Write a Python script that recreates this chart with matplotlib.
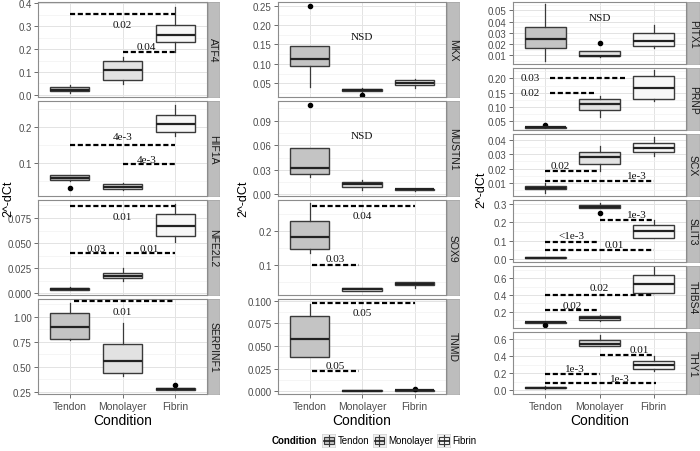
import matplotlib
matplotlib.use("Agg")
import matplotlib.pyplot as plt
from matplotlib.ticker import FixedLocator, MultipleLocator
from matplotlib.patches import Rectangle

plt.rcParams["font.family"] = ["Liberation Sans", "DejaVu Sans"]

conditions = ["Tendon", "Monolayer", "Fibrin"]
fills = ["#c4c4c4", "#e2e2e2", "#f7f7f7"]

columns = [
    ["ATF4", "HIF1A", "NFE2L2", "SERPINF1"],
    ["MKX", "MUSTN1", "SOX9", "TNMD"],
    ["PITX1", "PRNP", "SCX", "SLIT3", "THBS4", "THY1"],
]

# box statistics per gene: [Tendon, Monolayer, Fibrin]
whislo = {
    "ATF4": [0.008, 0.047, 0.187], "HIF1A": [0.052, 0.025, 0.175],
    "NFE2L2": [0.003, 0.012, 0.051], "SERPINF1": [0.764, 0.41, 0.268],
    "MKX": [0.040, 0.029, 0.038], "MUSTN1": [0.0216, 0.0056, 0.0045],
    "SOX9": [0.136, 0.022, 0.030], "TNMD": [0.0377, 0.0003, 0.0006],
    "PITX1": [0.0046, 0.008, 0.0161], "PRNP": [0.026, 0.067, 0.123],
    "SCX": [0.0036, 0.0183, 0.0289], "SLIT3": [0.002, 0.277, 0.115],
    "THBS4": [0.062, 0.088, 0.428], "THY1": [0.018, 0.514, 0.223],
}
q1 = {
    "ATF4": [0.015, 0.066, 0.229], "HIF1A": [0.054, 0.029, 0.186],
    "NFE2L2": [0.0035, 0.0149, 0.0568], "SERPINF1": [0.781, 0.436, 0.270],
    "MKX": [0.094, 0.031, 0.046], "MUSTN1": [0.0248, 0.0096, 0.005],
    "SOX9": [0.148, 0.023, 0.039], "TNMD": [0.0377, 0.0004, 0.0008],
    "PITX1": [0.0161, 0.0091, 0.0185], "PRNP": [0.027, 0.0905, 0.129],
    "SCX": [0.0059, 0.0235, 0.0316], "SLIT3": [0.003, 0.277, 0.115],
    "THBS4": [0.065, 0.104, 0.428], "THY1": [0.020, 0.514, 0.246],
}
med = {
    "ATF4": [0.023, 0.108, 0.260], "HIF1A": [0.059, 0.035, 0.209],
    "NFE2L2": [0.0045, 0.0175, 0.067], "SERPINF1": [0.899, 0.557, 0.277],
    "MKX": [0.113, 0.033, 0.050], "MUSTN1": [0.0328, 0.0124, 0.006],
    "SOX9": [0.184, 0.027, 0.044], "TNMD": [0.058, 0.0007, 0.0013],
    "PITX1": [0.0243, 0.0097, 0.023], "PRNP": [0.030, 0.111, 0.168],
    "SCX": [0.0068, 0.0277, 0.0343], "SLIT3": [0.005, 0.286, 0.150],
    "THBS4": [0.077, 0.124, 0.528], "THY1": [0.030, 0.544, 0.290],
}
q3 = {
    "ATF4": [0.034, 0.148, 0.304], "HIF1A": [0.067, 0.041, 0.235],
    "NFE2L2": [0.0052, 0.0205, 0.079], "SERPINF1": [1.040, 0.732, 0.285],
    "MKX": [0.147, 0.035, 0.058], "MUSTN1": [0.0568, 0.0156, 0.0065],
    "SOX9": [0.231, 0.031, 0.049], "TNMD": [0.083, 0.0010, 0.0018],
    "PITX1": [0.0348, 0.0136, 0.0297], "PRNP": [0.032, 0.130, 0.209],
    "SCX": [0.0082, 0.0316, 0.0374], "SLIT3": [0.008, 0.296, 0.184],
    "THBS4": [0.085, 0.148, 0.632], "THY1": [0.040, 0.589, 0.346],
}
whishi = {
    "ATF4": [0.045, 0.165, 0.385], "HIF1A": [0.068, 0.045, 0.261],
    "NFE2L2": [0.006, 0.025, 0.089], "SERPINF1": [1.14, 0.933, 0.29],
    "MKX": [0.147, 0.039, 0.062], "MUSTN1": [0.0568, 0.0176, 0.007],
    "SOX9": [0.283, 0.032, 0.049], "TNMD": [0.097, 0.0012, 0.002],
    "PITX1": [0.0554, 0.0136, 0.0366], "PRNP": [0.033, 0.140, 0.229],
    "SCX": [0.0098, 0.0357, 0.042], "SLIT3": [0.009, 0.309, 0.212],
    "THBS4": [0.09, 0.16, 0.728], "THY1": [0.045, 0.652, 0.402],
}
fliers = {
    "ATF4": [[], [], []], "HIF1A": [[0.032], [], []],
    "NFE2L2": [[], [], []], "SERPINF1": [[], [], [0.314]],
    "MKX": [[0.25], [0.021], []], "MUSTN1": [[0.1096], [], []],
    "SOX9": [[], [], []], "TNMD": [[], [], [0.0025]],
    "PITX1": [[], [0.021], []], "PRNP": [[0.039], [], []],
    "SCX": [[], [], []], "SLIT3": [[], [0.252], []],
    "THBS4": [[0.040], [], []], "THY1": [[], [], []],
}

# significance annotations: (x_start, x_end, y_line, label, label_x, label_y)
sig = {
    "ATF4": [(1, 3, 0.352, "0.02", 2.0, 0.309), (2, 3, 0.188, "0.04", 2.45, 0.211)],
    "HIF1A": [(1, 3, 0.152, "4e-3", 2.0, 0.175), (2, 3, 0.098, "4e-3", 2.45, 0.111)],
    "NFE2L2": [(1, 3, 0.0866, "0.01", 2.0, 0.0767), (1, 1.93, 0.0404, "0.03", 1.5, 0.0447),
               (2.07, 3, 0.0404, "0.01", 2.5, 0.0447)],
    "SERPINF1": [(1.08, 3, 1.158, "0.01", 2.0, 1.057)],
    "MKX": [(None, None, None, "NSD", 2.0, 0.170)],
    "MUSTN1": [(None, None, None, "NSD", 2.0, 0.0716)],
    "SOX9": [(1.05, 3, 0.275, "0.04", 2.0, 0.248), (1.05, 1.95, 0.100, "0.03", 1.5, 0.118)],
    "TNMD": [(1.05, 3, 0.098, "0.05", 2.0, 0.087), (1.05, 1.95, 0.0228, "0.05", 1.5, 0.029)],
    "PITX1": [(None, None, None, "NSD", 2.0, 0.0434)],
    "PRNP": [(1.09, 2.47, 0.202, "0.03", 0.72, 0.203), (1.09, 1.92, 0.150, "0.02", 0.72, 0.151)],
    "SCX": [(1, 1.96, 0.0183, "0.02", 1.28, 0.0223), (1, 3, 0.0116, "1e-3", 2.7, 0.0155)],
    "SLIT3": [(2, 3, 0.212, "1e-3", 2.7, 0.242), (1, 1.96, 0.093, "<1e-3", 1.48, 0.127),
              (1, 3, 0.048, "0.01", 2.27, 0.076)],
    "THBS4": [(1, 3, 0.400, "0.02", 2.0, 0.488), (1, 1.96, 0.216, "0.02", 1.5, 0.280)],
    "THY1": [(2, 3, 0.418, "0.01", 2.73, 0.477), (1, 2, 0.193, "1e-3", 1.55, 0.257),
             (1, 3.04, 0.080, "1e-3", 2.37, 0.134)],
}

ylims = {
    "ATF4": (-0.009, 0.405), "HIF1A": (0.009, 0.273), "NFE2L2": (-0.0015, 0.0928),
    "SERPINF1": (0.226, 1.178), "MKX": (0.015, 0.259), "MUSTN1": (-0.002, 0.114),
    "SOX9": (0.010, 0.293), "TNMD": (-0.003, 0.102), "PITX1": (0.0022, 0.0575),
    "PRNP": (0.0203, 0.2366), "SCX": (0.0012, 0.0438), "SLIT3": (-0.018, 0.323),
    "THBS4": (0.008, 0.744), "THY1": (-0.045, 0.682),
}
yticks = {
    "ATF4": ([0.0, 0.1, 0.2, 0.3, 0.4], ["0.0", "0.1", "0.2", "0.3", "0.4"]),
    "HIF1A": ([0.1, 0.2], ["0.1", "0.2"]),
    "NFE2L2": ([0.0, 0.025, 0.05, 0.075], ["0.000", "0.025", "0.050", "0.075"]),
    "SERPINF1": ([0.25, 0.5, 0.75, 1.0], ["0.25", "0.50", "0.75", "1.00"]),
    "MKX": ([0.05, 0.10, 0.15, 0.20, 0.25], ["0.05", "0.10", "0.15", "0.20", "0.25"]),
    "MUSTN1": ([0.0, 0.03, 0.06, 0.09], ["0.00", "0.03", "0.06", "0.09"]),
    "SOX9": ([0.1, 0.2], ["0.1", "0.2"]),
    "TNMD": ([0.0, 0.025, 0.05, 0.075, 0.1], ["0.000", "0.025", "0.050", "0.075", "0.100"]),
    "PITX1": ([0.01, 0.02, 0.03, 0.04, 0.05], ["0.01", "0.02", "0.03", "0.04", "0.05"]),
    "PRNP": ([0.05, 0.10, 0.15, 0.20], ["0.05", "0.10", "0.15", "0.20"]),
    "SCX": ([0.01, 0.02, 0.03, 0.04], ["0.01", "0.02", "0.03", "0.04"]),
    "SLIT3": ([0.0, 0.1, 0.2, 0.3], ["0.0", "0.1", "0.2", "0.3"]),
    "THBS4": ([0.2, 0.4, 0.6], ["0.2", "0.4", "0.6"]),
    "THY1": ([0.0, 0.2, 0.4, 0.6], ["0.0", "0.2", "0.4", "0.6"]),
}

W, H = 700, 452
fig = plt.figure(figsize=(W / 100, H / 100), dpi=100)
fig.patch.set_facecolor("white")

col_x = [(38, 207, 219), (278, 446, 459), (513, 686, 699)]
ylab_x = [8, 243, 481]
ylab_y = [199, 199, 190]
top, bottom, gap = 3, 395, 4
serif = ["Liberation Serif", "DejaVu Serif"]
tick_col = "#4d4d4d"


def fx(px):
    return px / W


def draw_panel(gene, x0, x1, xs, yt, yb, show_x):
    ax = fig.add_axes([fx(x0), 1 - yb / H, fx(x1 - x0), (yb - yt) / H])
    ax.set_facecolor("white")
    ax.set_xlim(0.4, 3.6)
    ax.set_ylim(*ylims[gene])
    ticks, labels = yticks[gene]
    ax.yaxis.set_major_locator(FixedLocator(ticks))
    ax.set_yticklabels(labels)
    if len(ticks) > 1:
        step = ticks[1] - ticks[0]
        ax.yaxis.set_minor_locator(MultipleLocator(step / 2))
    ax.set_xticks([1, 2, 3])
    ax.grid(True, which="major", color="#e3e3e3", lw=0.7, zorder=0)
    ax.grid(True, which="minor", axis="y", color="#f2f2f2", lw=0.5, zorder=0)
    ax.set_axisbelow(True)
    for s in ax.spines.values():
        s.set_color("#8c8c8c")
        s.set_linewidth(0.8)
    ax.tick_params(axis="both", which="major", length=3, width=0.6, color="#555555",
                   labelsize=7, labelcolor=tick_col, pad=1.5)
    ax.tick_params(axis="y", which="minor", length=0)
    if show_x:
        ax.set_xticklabels(conditions)
        ax.tick_params(axis="x", labelsize=7.5, labelcolor=tick_col, pad=2)
    else:
        ax.set_xticklabels([])
        ax.tick_params(axis="x", length=0)

    stats = []
    for i in range(3):
        stats.append(dict(whislo=whislo[gene][i], q1=q1[gene][i], med=med[gene][i],
                          q3=q3[gene][i], whishi=whishi[gene][i], fliers=fliers[gene][i]))
    bp = ax.bxp(stats, positions=[1, 2, 3], widths=0.75, patch_artist=True,
                showcaps=False, manage_ticks=False,
                boxprops=dict(edgecolor="#3a3a3a", linewidth=1.0),
                whiskerprops=dict(color="#3a3a3a", linewidth=0.9),
                medianprops=dict(color="#222222", linewidth=1.6),
                flierprops=dict(marker="o", markerfacecolor="black", markeredgecolor="black",
                                markersize=3))
    for p, c in zip(bp["boxes"], fills):
        p.set_facecolor(c)
        p.set_zorder(2)

    for (xa, xb, yl, lab, lx, ly) in sig[gene]:
        if xa is not None:
            ax.plot([xa, xb], [yl, yl], color="black", lw=1.6,
                    linestyle=(0, (2.3, 1.2)), zorder=4, solid_capstyle="butt",
                    dash_capstyle="butt")
        ax.text(lx, ly, lab, ha="center", va="center", fontsize=8,
                family=serif, color="#111111", zorder=5)

    # strip on right
    sax = fig.add_axes([fx(x1 + 0.5), 1 - yb / H, fx(xs - x1 - 0.5), (yb - yt) / H])
    sax.set_xticks([])
    sax.set_yticks([])
    sax.set_facecolor("#bdbdbd")
    for s in sax.spines.values():
        s.set_color("#a8a8a8")
        s.set_linewidth(0.6)
    sax.text(0.5, 0.5, gene, rotation=270, ha="center", va="center",
             fontsize=7.5, color="#1a1a1a", transform=sax.transAxes)
    return ax


for ci, genes in enumerate(columns):
    x0, x1, xs = col_x[ci]
    n = len(genes)
    h = (bottom - top - gap * (n - 1)) / n
    for ri, g in enumerate(genes):
        yt = top + ri * (h + gap)
        yb = yt + h
        draw_panel(g, x0, x1, xs, yt, yb, ri == n - 1)
    fig.text(fx(ylab_x[ci]), 1 - ylab_y[ci] / H, "2^-dCt", rotation=90, ha="center",
             va="center", fontsize=9, color="black")
    fig.text(fx((x0 + x1) / 2), 1 - 421 / H, "Condition", ha="center", va="center",
             fontsize=10, color="black")

# legend
ly = 1 - 441 / H
fig.canvas.draw()
renderer = fig.canvas.get_renderer()
cur = 272.0
t = fig.text(fx(cur), ly, "Condition", fontweight="bold", fontsize=7, ha="left", va="center")
cur += t.get_window_extent(renderer).width + 5
for lab, c in zip(conditions, fills):
    kax = fig.add_axes([fx(cur), 1 - 448 / H, fx(13), 13 / H])
    kax.set_xlim(0, 1)
    kax.set_ylim(0, 1)
    kax.set_facecolor("#f0f0f0")
    for s in kax.spines.values():
        s.set_color("#d0d0d0")
        s.set_linewidth(0.5)
    kax.set_xticks([])
    kax.set_yticks([])
    kax.plot([0.5, 0.5], [0.05, 0.95], color="#3a3a3a", lw=0.8)
    kax.add_patch(Rectangle((0.12, 0.25), 0.76, 0.5, facecolor=c, edgecolor="#3a3a3a", lw=0.8))
    kax.plot([0.12, 0.88], [0.5, 0.5], color="#222222", lw=1.2)
    cur += 15
    tt = fig.text(fx(cur), ly, lab, fontsize=7, ha="left", va="center")
    cur += tt.get_window_extent(renderer).width + 4

fig.savefig("out.png", dpi=100)
